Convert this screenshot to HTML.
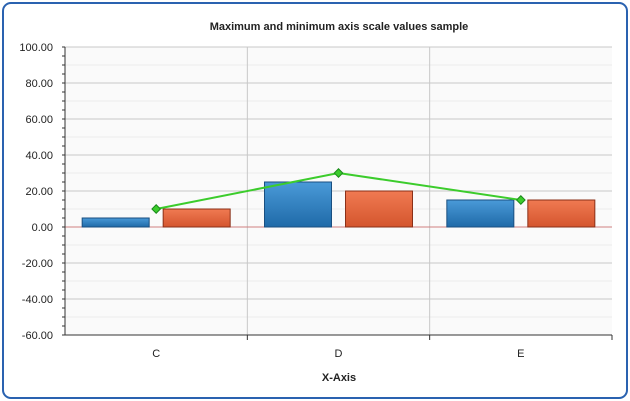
<!DOCTYPE html>
<html><head><meta charset="utf-8"><style>
body{margin:0;background:#fff;font-family:"Liberation Sans",sans-serif}
#frame{position:absolute;left:2px;top:2px;width:622px;height:393px;border:2px solid #2a62b0;border-radius:9px;background:#fff}
</style></head><body>
<div id="frame"></div>
<svg id="c" width="630" height="401" style="position:absolute;left:0;top:0">
<defs>
<linearGradient id="gb" x1="0" x2="0" y1="0" y2="1"><stop offset="0" stop-color="#4a9ad8"/><stop offset="1" stop-color="#1f6aa8"/></linearGradient>
<linearGradient id="go" x1="0" x2="0" y1="0" y2="1"><stop offset="0" stop-color="#f07a52"/><stop offset="1" stop-color="#d4552e"/></linearGradient>
</defs>
<text x="339" y="30" text-anchor="middle" font-size="11" font-weight="bold" fill="#222">Maximum and minimum axis scale values sample</text>
<text x="339" y="381" text-anchor="middle" font-size="11" font-weight="bold" fill="#222">X-Axis</text>
</svg>
<script>
const categories=["C","D","E"];
const series1=[5,25,15];
const series2=[10,20,15];
const lineVals=[10,30,15];
const yTicks=[100,80,60,40,20,0,-20,-40,-60];
const svg=document.getElementById('c');const NS='http://www.w3.org/2000/svg';
const L=65,R=612,T=47,B=335,yMin=-60,yMax=100;
const y=v=>T+(yMax-v)/(yMax-yMin)*(B-T);
const cw=(R-L)/categories.length;const xc=i=>L+cw*(i+0.5);
function mk(t,a){const e=document.createElementNS(NS,t);for(const k in a)e.setAttribute(k,a[k]);svg.appendChild(e);return e;}
const bg=mk('rect',{x:L,y:T,width:R-L,height:B-T,fill:'#fafafa'});


for(let v=yMin;v<=yMax;v+=10){const g=mk('line',{x1:L,x2:R,y1:y(v),y2:y(v),stroke:v%20===0?'#c8c8c8':'#ececec'});

}
for(let v=yMin;v<=yMax;v+=5){const t=mk('line',{x1:L-3,x2:L,y1:y(v),y2:y(v),stroke:'#333'});

}
for(let i=1;i<categories.length;i++){const g=mk('line',{x1:L+cw*i,x2:L+cw*i,y1:T,y2:B,stroke:'#c8c8c8'});

}
yTicks.forEach(v=>{const t=mk('text',{x:L-12,y:y(v)+4,'text-anchor':'end','font-size':11,fill:'#222'});t.textContent=v.toFixed(2);

});
const z=mk('line',{x1:L,x2:R,y1:y(0),y2:y(0),stroke:'#d08080'});


const bw=67;
categories.forEach((c,i)=>{
 const v1=series1[i],v2=series2[i];
 const b1=mk('rect',{x:xc(i)-bw-7,y:y(Math.max(v1,0)),width:bw,height:Math.abs(y(v1)-y(0)),fill:'url(#gb)',stroke:'#1a4f80'});
 
 
 const b2=mk('rect',{x:xc(i)+7,y:y(Math.max(v2,0)),width:bw,height:Math.abs(y(v2)-y(0)),fill:'url(#go)',stroke:'#8a3018'});
 
 
 const t=mk('text',{x:xc(i),y:B+22,'text-anchor':'middle','font-size':11,fill:'#222'});t.textContent=c;
 
 
 const tk=mk('line',{x1:L+cw*(i+1),x2:L+cw*(i+1),y1:B,y2:B+5,stroke:'#333'});
 
 
});
const ax=mk('line',{x1:L,x2:L,y1:T,y2:B,stroke:'#333'});


const ax2=mk('line',{x1:L,x2:R,y1:B,y2:B,stroke:'#333'});


const pl=mk('polyline',{points:lineVals.map((v,i)=>xc(i)+','+y(v)).join(' '),fill:'none',stroke:'#3ccc2c','stroke-width':2});


lineVals.forEach((v,i)=>{const p=mk('rect',{x:xc(i)-3,y:y(v)-3,width:6,height:6,fill:'#3ccc2c',stroke:'#1a8a1a',transform:`rotate(45 ${xc(i)} ${y(v)})`});

});
</script>
</body></html>
